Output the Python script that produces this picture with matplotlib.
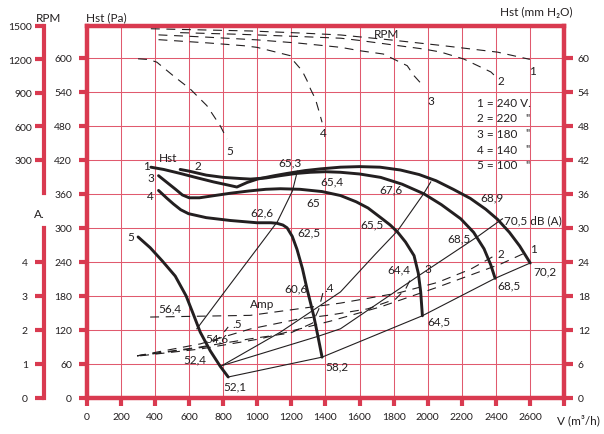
import matplotlib
matplotlib.use('Agg')
import matplotlib.pyplot as plt

plt.rcParams['font.family'] = ['Lato', 'DejaVu Sans']

RED = '#d93a50'
GRID = '#e05a6e'
INK = '#231f20'

# static pressure curves, flow (m3/h) vs Hst (Pa), one per voltage
hst1_x = [375, 450, 547, 650, 743, 820, 880, 940, 1000, 1100, 1175, 1280, 1371, 1488, 1600, 1720, 1840, 1950, 2050, 2150, 2250, 2340, 2410, 2480, 2540, 2602]
hst1_y = [407, 403, 396, 388, 381, 376, 372, 380, 386, 392, 396, 401, 404, 407, 408, 407, 402, 394, 383, 368, 352, 333, 315, 292, 268, 238]
hst2_x = [547, 600, 700, 800, 900, 960, 1050, 1135, 1230, 1312, 1400, 1488, 1600, 1724, 1850, 1978, 2080, 2194, 2270, 2331, 2370, 2396]
hst2_y = [403, 400, 393, 389, 387, 386, 388, 392, 396, 398, 399, 398, 395, 389, 377, 360, 341, 316, 292, 263, 235, 211]
hst3_x = [420, 470, 520, 560, 600, 660, 750, 841, 950, 1050, 1135, 1250, 1380, 1488, 1580, 1650, 1733, 1780, 1822, 1870, 1920, 1945, 1959, 1969]
hst3_y = [392, 380, 368, 358, 353, 353, 357, 361, 365, 368, 369, 368, 364, 357, 346, 335, 316, 305, 293, 275, 251, 220, 187, 145]
hst4_x = [420, 470, 508, 550, 596, 700, 841, 998, 1080, 1116, 1150, 1175, 1205, 1233, 1265, 1292, 1312, 1331, 1355, 1380]
hst4_y = [366, 352, 342, 332, 325, 318, 313, 309, 309, 308, 305, 300, 285, 262, 228, 192, 168, 145, 110, 72]
hst5_x = [300, 371, 441, 518, 582, 624, 665, 724, 782, 829]
hst5_y = [284, 265, 242, 215, 180, 148, 116, 83, 56, 37]

# thin system lines joining operating points (m3/h, Pa)
sys_a_x = [829, 1380, 1969, 2396, 2602]
sys_a_y = [37, 72, 145, 211, 238]
sys_b_x = [792, 1359, 1488, 1959, 2300, 2439]
sys_b_y = [57, 109, 122, 218, 286, 316]
sys_c_x = [792, 1135, 1488, 1694, 1824, 1976, 2018]
sys_c_y = [57, 116, 187, 254, 295, 360, 381]
sys_d_x = [645, 812, 998, 1118, 1206, 1235]
sys_d_y = [122, 189, 263, 311, 365, 400]

# speed curves (m3/h, RPM)
rpm1_x = [375, 665, 960, 1250, 1490, 1780, 2080, 2410, 2600]
rpm1_y = [1475, 1465, 1455, 1437, 1419, 1375, 1325, 1265, 1200]
rpm2_x = [547, 900, 1250, 1490, 1600, 1976, 2076, 2212, 2371, 2396]
rpm2_y = [1440, 1425, 1405, 1390, 1370, 1293, 1266, 1203, 1087, 1050]
rpm3_x = [420, 700, 1000, 1250, 1490, 1600, 1740, 1820, 1880, 1920, 1969]
rpm3_y = [1420, 1400, 1375, 1345, 1308, 1278, 1248, 1188, 1143, 1053, 970]
rpm4_x = [420, 716, 918, 998, 1194, 1212, 1263, 1292, 1312, 1341, 1361, 1380]
rpm4_y = [1377, 1347, 1323, 1308, 1233, 1188, 1098, 1009, 934, 844, 739, 635]
rpm5_x = [300, 361, 410, 508, 606, 704, 782, 822]
rpm5_y = [1205, 1199, 1175, 1051, 934, 784, 604, 485]

# current curves (m3/h, A)
amp1_x = [312, 665, 1018, 1429, 1724, 2059, 2271, 2429, 2582]
amp1_y = [1.24, 1.44, 1.74, 2.26, 2.68, 3.26, 3.65, 3.94, 4.29]
amp2_x = [371, 959, 1488, 1829, 2059, 2253, 2412]
amp2_y = [2.38, 2.43, 2.79, 3.09, 3.40, 3.79, 4.24]
amp3_x = [294, 665, 959, 1241, 1429, 1647, 1812, 1871, 1906]
amp3_y = [1.24, 1.59, 2.03, 2.32, 2.44, 2.62, 2.91, 3.21, 3.56]
amp4_x = [294, 665, 959, 1194, 1323, 1360, 1388]
amp4_y = [1.24, 1.50, 1.74, 1.91, 2.20, 2.60, 3.15]
amp5_x = [294, 518, 694, 782, 829]
amp5_y = [1.24, 1.38, 1.50, 1.79, 2.09]

# sound levels written along the curves (text, m3/h, Pa)
db_labels = [('65,3', 1191, 416), ('65,4', 1439, 383), ('67,6', 1782, 369), ('68,9', 2380, 354),
             ('62,6', 1029, 328), ('65', 1331, 345), ('65,5', 1676, 307), ('68,5', 2184, 283),
             ('62,5', 1302, 293), ('64,4', 1831, 228), ('60,6', 1225, 194), ('56,4', 484, 158),
             ('54,6', 762, 106), ('52,4', 635, 69), ('52,1', 870, 21), ('58,2', 1465, 56),
             ('64,5', 2065, 136), ('68,5', 2478, 199), ('70,2', 2690, 224)]
curve_labels = [('Hst', 476, 424), ('1', 351, 410), ('2', 650, 410), ('3', 374, 389), ('4', 371, 357),
                ('5', 259, 285),
                ('RPM', 1757, 642), ('1', 2615, 578), ('2', 2429, 560), ('3', 2018, 525),
                ('4', 1385, 469), ('5', 841, 436),
                ('Amp', 1029, 166), ('1', 2624, 263), ('2', 2431, 254), ('3', 2000, 228),
                ('.4', 1420, 194), ('.5', 880, 131)]
legend_rows = ['1 = 240 V.', '2 = 220', '3 = 180', '4 = 140', '5 = 100']
legend_y = [521, 494, 467, 439, 411]

fig = plt.figure(figsize=(6.04, 4.35), dpi=100)
ax = fig.add_axes([0.144, 0.0828, 0.7897, 0.8552])
ax.set_xlim(0, 2800)
ax.set_ylim(0, 656)
ax.set_xticks(range(0, 2801, 200))
ax.set_xticklabels([str(v) for v in range(0, 2601, 200)] + [''])
ax.set_yticks(range(0, 601, 60))
ax.grid(True, color=GRID, lw=0.75)
ax.set_axisbelow(True)
for s in ax.spines.values():
    s.set_color(RED)
    s.set_linewidth(3.2)
ax.tick_params(axis='y', colors=RED, width=3, length=5.8, pad=5, labelcolor=INK, labelsize=7.5)
ax.tick_params(axis='x', colors=RED, width=3, length=5.8, pad=4, labelcolor=INK, labelsize=7.5)

# right axis in mm H2O
ax_mm = ax.twinx()
ax_mm.set_ylim(0, 65.6)
ax_mm.set_yticks(range(0, 61, 6))
for s in ax_mm.spines.values():
    s.set_visible(False)
ax_mm.tick_params(axis='y', colors=RED, width=3, length=6.5, pad=3.5, labelcolor=INK, labelsize=7.5)

# RPM scale on the far left
ax_rpm = ax.twinx()
ax_rpm.set_ylim(-1841, 1500)
ax_rpm.yaxis.tick_left()
for name, s in ax_rpm.spines.items():
    s.set_visible(name == 'left')
ax_rpm.spines['left'].set_position(('axes', -0.0908))
ax_rpm.spines['left'].set_bounds(0, 1500)
ax_rpm.spines['left'].set_color(RED)
ax_rpm.spines['left'].set_linewidth(3)
ax_rpm.set_yticks([300, 600, 900, 1200, 1500])
ax_rpm.tick_params(axis='y', colors=RED, width=3, length=6.3, pad=2, labelcolor=INK, labelsize=7.5)

# Amp scale on the far left
ax_amp = ax.twinx()
ax_amp.set_ylim(0, 10.94)
ax_amp.yaxis.tick_left()
for name, s in ax_amp.spines.items():
    s.set_visible(name == 'left')
ax_amp.spines['left'].set_position(('axes', -0.0908))
ax_amp.spines['left'].set_bounds(0, 5)
ax_amp.spines['left'].set_color(RED)
ax_amp.spines['left'].set_linewidth(3)
ax_amp.set_yticks([0, 1, 2, 3, 4])
ax_amp.tick_params(axis='y', colors=RED, width=3, length=6.3, pad=5, labelcolor=INK, labelsize=7.5)

thick = dict(color=INK, lw=2.1, solid_capstyle='round', solid_joinstyle='round', zorder=4)
for xs, ys in [(hst1_x, hst1_y), (hst2_x, hst2_y), (hst3_x, hst3_y), (hst4_x, hst4_y), (hst5_x, hst5_y)]:
    ax.plot(xs, ys, **thick)

thin = dict(color=INK, lw=0.8, zorder=3)
for xs, ys in [(sys_a_x, sys_a_y), (sys_b_x, sys_b_y), (sys_c_x, sys_c_y), (sys_d_x, sys_d_y)]:
    ax.plot(xs, ys, **thin)

dash = dict(color=INK, lw=0.8, ls=(0, (8, 6)), zorder=3)
for xs, ys in [(rpm1_x, rpm1_y), (rpm2_x, rpm2_y), (rpm3_x, rpm3_y), (rpm4_x, rpm4_y), (rpm5_x, rpm5_y)]:
    ax_rpm.plot(xs, ys, **dash)
for xs, ys in [(amp1_x, amp1_y), (amp2_x, amp2_y), (amp3_x, amp3_y), (amp4_x, amp4_y), (amp5_x, amp5_y)]:
    ax_amp.plot(xs, ys, **dash)

for t, x, y in db_labels + curve_labels:
    ax.text(x, y, t, ha='center', va='center', fontsize=8.5, color=INK, zorder=5)
ax.text(2447, 315, '70,5 dB (A)', ha='left', va='center', fontsize=8.5, color=INK, zorder=5)
for t, y in zip(legend_rows, legend_y):
    ax.text(2292, y, t, ha='left', va='center', fontsize=8.5, color=INK, zorder=5)
    if not t.endswith('V.'):
        ax.text(2585, y + 3, '"', ha='center', va='center', fontsize=8, color=INK, zorder=6)

fig.text(49 / 604, 1 - 18 / 435, 'RPM', ha='center', va='center', fontsize=8.5, color=INK)
fig.text(86 / 604, 1 - 18 / 435, 'Hst (Pa)', ha='left', va='center', fontsize=8.5, color=INK)
fig.text(573 / 604, 1 - 12 / 435, 'Hst (mm H₂O)', ha='right', va='center', fontsize=8.5, color=INK)
fig.text(39 / 604, 1 - 215 / 435, 'A.', ha='center', va='center', fontsize=8.5, color=INK)
fig.text(557 / 604, 1 - 420 / 435, 'V (m³/h)', ha='left', va='center', fontsize=8.5, color=INK)

fig.savefig('out.png', dpi=100)
